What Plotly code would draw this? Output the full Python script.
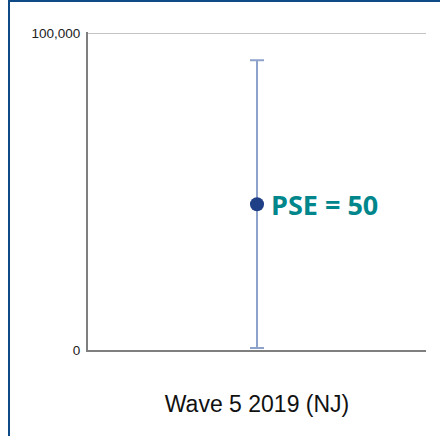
import plotly.graph_objects as go

# Survey estimate with its confidence interval
categories = ["Wave 5 2019 (NJ)"]
estimates = [46000]
ci_upper = [91500]
ci_lower = [600]
pse_labels = ["PSE = 50"]

y_ticks = [0, 100000]
y_tick_text = ["0", "100,000"]

err_plus = [u - e for u, e in zip(ci_upper, estimates)]
err_minus = [e - l for e, l in zip(estimates, ci_lower)]

fig = go.Figure()
fig.add_trace(go.Scatter(
    x=categories,
    y=estimates,
    mode="markers",
    marker=dict(size=14, color="#1F3F86"),
    error_y=dict(
        type="data",
        symmetric=False,
        array=err_plus,
        arrayminus=err_minus,
        color="#8EA3CC",
        thickness=2,
        width=7,
    ),
    showlegend=False,
    hoverinfo="skip",
))

for cat, est, txt in zip(categories, estimates, pse_labels):
    fig.add_annotation(
        x=cat, y=est, text="<b>" + txt + "</b>",
        showarrow=False, xanchor="left", yanchor="middle",
        xshift=12,
        font=dict(family="Open Sans", size=27, color="#00868B"),
    )

# Outer frame of the panel
fig.add_shape(
    type="rect", xref="paper", yref="paper",
    x0=-0.2337, x1=2.0, y0=-1.0, y1=1.0975,
    line=dict(color="#0E4A85", width=2),
    fillcolor="rgba(0,0,0,0)",
    layer="above",
)

fig.update_layout(
    width=440,
    height=436,
    margin=dict(l=88, r=14, t=32, b=86),
    paper_bgcolor="white",
    plot_bgcolor="white",
    font=dict(family="Liberation Sans, Arial, sans-serif", color="#222222"),
)

fig.update_xaxes(
    type="category",
    range=[-0.5, 0.5],
    showgrid=False,
    showline=True,
    linecolor="#7F7F7F",
    linewidth=2,
    ticks="",
    tickfont=dict(size=23, color="#111111"),
    ticklabelstandoff=32,
)

fig.update_yaxes(
    range=[0, 100400],
    tickvals=y_ticks,
    ticktext=y_tick_text,
    showgrid=True,
    gridcolor="#C4C4C4",
    gridwidth=1,
    zeroline=False,
    showline=True,
    linecolor="#7F7F7F",
    linewidth=2,
    ticks="",
    ticklabelstandoff=3,
    tickfont=dict(size=13.5, color="#222222"),
)

fig.write_html("out.html")
